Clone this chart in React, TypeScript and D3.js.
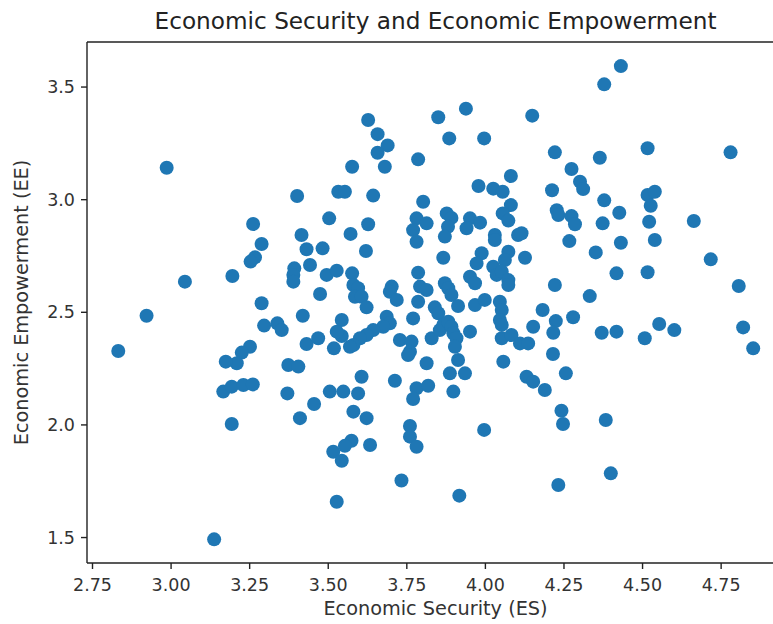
import React from "react";
import * as d3 from "d3";

// Economic Security (ES) score per respondent
const esValues: number[] = [
  2.986, 3.401, 3.261, 3.503, 3.415, 3.288, 3.431, 3.482, 3.267, 3.253,
  3.442, 3.392, 3.389, 3.389, 3.495, 3.195, 3.044, 3.474, 3.288, 2.922,
  3.419, 3.296, 3.338, 3.352, 2.832, 3.431, 3.468, 3.251, 3.225, 3.209,
  3.174, 3.373, 3.405, 3.518, 3.166, 3.193, 3.230, 3.260, 3.370, 3.455,
  3.505, 3.193, 3.410, 3.516, 3.527, 3.137, 3.627, 3.657, 3.689, 3.657,
  3.680, 3.576, 3.850, 3.938, 3.885, 3.996, 4.149, 3.786, 3.978, 4.025,
  4.055, 4.081, 4.081, 4.055, 4.073, 3.532, 3.553, 3.643, 3.802, 3.627,
  3.781, 3.813, 3.877, 3.892, 3.881, 3.951, 3.983, 3.940, 4.221, 4.212,
  4.431, 4.378, 4.364, 4.516, 4.780, 4.274, 4.301, 4.311, 4.378, 4.516,
  4.539, 4.526, 4.227, 4.232, 4.274, 4.285, 4.426, 4.373, 4.521, 4.663,
  3.571, 3.770, 3.781, 3.871, 4.030, 4.030, 4.104, 4.115, 3.620, 3.866,
  3.988, 3.972, 4.073, 4.062, 4.126, 3.527, 3.576, 3.786, 4.025, 4.036,
  4.052, 4.073, 4.073, 3.951, 3.967, 4.221, 3.580, 3.595, 3.585, 3.606,
  3.622, 3.702, 3.696, 3.718, 3.792, 3.813, 3.786, 3.871, 3.882, 3.892,
  3.913, 3.967, 3.998, 4.046, 4.052, 4.046, 4.052, 3.839, 3.850, 3.770,
  3.686, 3.696, 3.675, 3.643, 3.622, 3.601, 3.580, 3.569, 3.543, 3.543,
  3.527, 3.728, 3.765, 3.760, 3.754, 3.829, 3.855, 3.866, 3.882, 3.892,
  3.898, 3.908, 3.903, 3.951, 4.052, 4.083, 4.110, 4.136, 4.152, 4.215,
  3.813, 3.913, 4.057, 3.887, 3.935, 3.606, 3.712, 4.131, 4.152, 4.189,
  3.548, 3.595, 3.781, 3.818, 3.770, 3.898, 3.580, 3.622, 3.760, 3.760,
  3.781, 3.996, 3.574, 3.553, 3.543, 3.633, 3.733, 3.917, 4.267, 4.431,
  4.539, 4.351, 4.717, 4.417, 4.516, 4.332, 4.806, 4.182, 4.224, 4.216,
  4.279, 4.370, 4.417, 4.507, 4.553, 4.601, 4.820, 4.852, 4.256, 4.242,
  4.247, 4.383, 4.399, 4.232,
];

// Economic Empowerment (EE) score per respondent
const eeValues: number[] = [
  3.142, 3.016, 2.892, 2.917, 2.843, 2.803, 2.780, 2.784, 2.744, 2.725,
  2.710, 2.695, 2.666, 2.636, 2.666, 2.661, 2.636, 2.581, 2.540, 2.485,
  2.485, 2.441, 2.451, 2.421, 2.328, 2.359, 2.385, 2.347, 2.321, 2.274,
  2.281, 2.266, 2.259, 2.340, 2.148, 2.170, 2.177, 2.180, 2.140, 2.093,
  2.148, 2.004, 2.030, 1.881, 1.659, 1.492, 3.354, 3.291, 3.241, 3.208,
  3.146, 3.146, 3.366, 3.404, 3.272, 3.272, 3.373, 3.179, 3.061, 3.049,
  3.035, 3.105, 2.976, 2.939, 2.907, 3.035, 3.035, 3.018, 2.991, 2.891,
  2.917, 2.895, 2.939, 2.919, 2.880, 2.917, 2.898, 2.873, 3.210, 3.042,
  3.593, 3.512, 3.186, 3.228, 3.210, 3.136, 3.080, 3.047, 2.997, 3.021,
  3.035, 2.973, 2.953, 2.932, 2.927, 2.891, 2.942, 2.895, 2.902, 2.905,
  2.848, 2.865, 2.813, 2.836, 2.843, 2.821, 2.843, 2.851, 2.772, 2.742,
  2.762, 2.717, 2.769, 2.732, 2.742, 2.685, 2.673, 2.676, 2.702, 2.666,
  2.680, 2.643, 2.621, 2.658, 2.629, 2.621, 2.621, 2.607, 2.569, 2.569,
  2.522, 2.614, 2.591, 2.555, 2.614, 2.599, 2.547, 2.629, 2.607, 2.577,
  2.528, 2.532, 2.555, 2.547, 2.510, 2.466, 2.444, 2.522, 2.496, 2.473,
  2.480, 2.451, 2.436, 2.421, 2.399, 2.385, 2.355, 2.347, 2.466, 2.395,
  2.414, 2.377, 2.370, 2.325, 2.310, 2.385, 2.421, 2.444, 2.458, 2.436,
  2.407, 2.385, 2.347, 2.414, 2.385, 2.399, 2.362, 2.362, 2.436, 2.315,
  2.274, 2.288, 2.281, 2.229, 2.229, 2.214, 2.196, 2.214, 2.192, 2.155,
  2.148, 2.140, 2.163, 2.174, 2.115, 2.148, 2.059, 2.030, 1.995, 1.948,
  1.903, 1.978, 1.930, 1.907, 1.841, 1.911, 1.753, 1.686, 2.816, 2.809,
  2.821, 2.766, 2.735, 2.673, 2.678, 2.572, 2.617, 2.510, 2.461, 2.409,
  2.478, 2.409, 2.414, 2.385, 2.448, 2.421, 2.433, 2.340, 2.229, 2.063,
  2.004, 2.022, 1.785, 1.733,
];

const xTicks: number[] = [2.75, 3.0, 3.25, 3.5, 3.75, 4.0, 4.25, 4.5, 4.75];
const yTicks: number[] = [1.5, 2.0, 2.5, 3.0, 3.5];

const title = "Economic Security and Economic Empowerment";
const xLabel = "Economic Security (ES)";
const yLabel = "Economic Empowerment (EE)";

const W = 773;
const H = 624;
const plot = { left: 87, right: 784, top: 42, bottom: 563 };
const FONT = "'DejaVu Sans', sans-serif";

export default function App() {
  const x = d3.scaleLinear().domain([2.7325, 4.95]).range([plot.left, plot.right]);
  const y = d3.scaleLinear().domain([1.387, 3.7]).range([plot.bottom, plot.top]);
  const points = esValues.map((v, i) => ({ es: v, ee: eeValues[i] }));
  const tickLen = 6;

  return (
    <svg
      width={W}
      height={H}
      style={{ position: "absolute", left: 0, top: 0, background: "#fff" }}
      fontFamily={FONT}
    >
      <rect x={0} y={0} width={W} height={H} fill="#fff" />
      <g>
        {points.map((p, i) => (
          <circle key={i} cx={x(p.es)} cy={y(p.ee)} r={7} fill="#1f77b4" />
        ))}
      </g>
      {/* spines */}
      <g stroke="#222" strokeWidth={1.4} fill="none">
        <line x1={plot.left} y1={plot.top} x2={plot.left} y2={plot.bottom} />
        <line x1={plot.left} y1={plot.bottom} x2={plot.right} y2={plot.bottom} />
        <line x1={plot.left} y1={plot.top} x2={plot.right} y2={plot.top} />
        <line x1={plot.right} y1={plot.top} x2={plot.right} y2={plot.bottom} />
      </g>
      {/* x axis */}
      <g>
        {xTicks.map((t) => (
          <g key={t} transform={`translate(${x(t)},${plot.bottom})`}>
            <line y2={tickLen} stroke="#222" strokeWidth={1.4} />
            <text y={28} textAnchor="middle" fontSize={17.5} fill="#333">
              {d3.format(".2f")(t)}
            </text>
          </g>
        ))}
      </g>
      {/* y axis */}
      <g>
        {yTicks.map((t) => (
          <g key={t} transform={`translate(${plot.left},${y(t)})`}>
            <line x2={-tickLen} stroke="#222" strokeWidth={1.4} />
            <text x={-12} dy="0.35em" textAnchor="end" fontSize={17.5} fill="#333">
              {d3.format(".1f")(t)}
            </text>
          </g>
        ))}
      </g>
      <text
        x={(plot.left + plot.right) / 2}
        y={615}
        textAnchor="middle"
        fontSize={19.3}
        fill="#333"
      >
        {xLabel}
      </text>
      <text
        transform={`translate(28,${(plot.top + plot.bottom) / 2}) rotate(-90)`}
        textAnchor="middle"
        fontSize={19.3}
        fill="#333"
      >
        {yLabel}
      </text>
      <text
        x={(plot.left + plot.right) / 2}
        y={29}
        textAnchor="middle"
        fontSize={23.2}
        fill="#222"
      >
        {title}
      </text>
    </svg>
  );
}
